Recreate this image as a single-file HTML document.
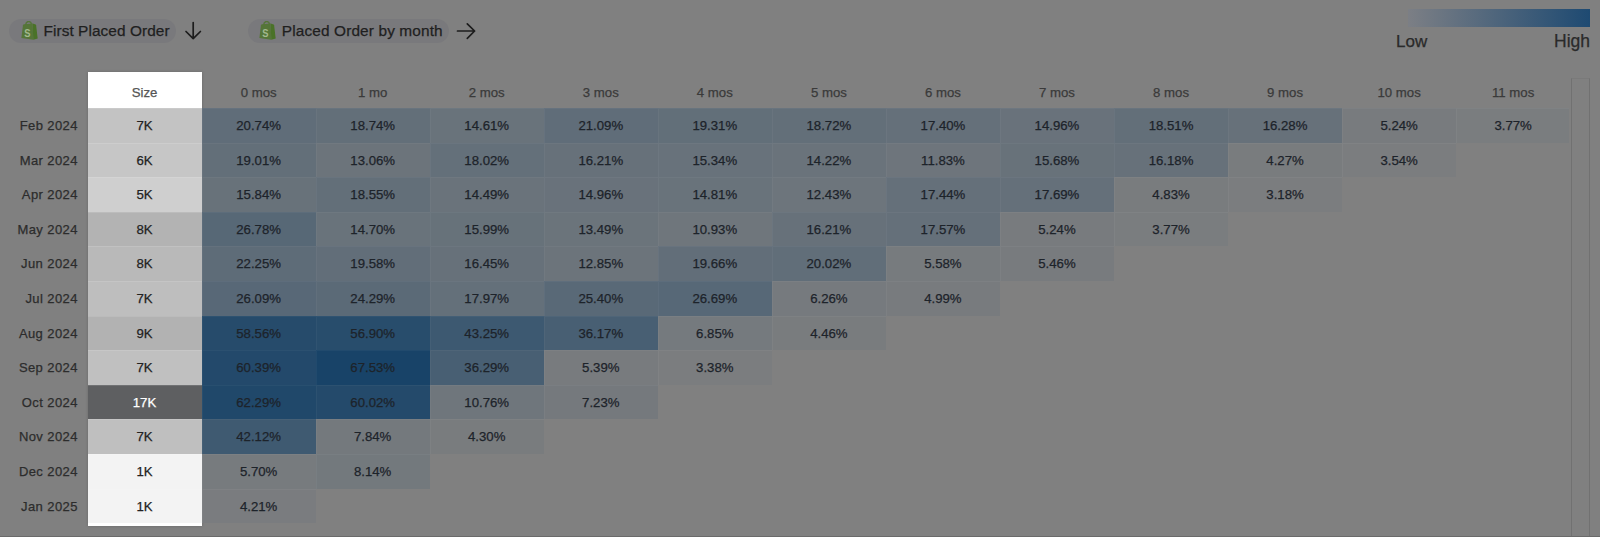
<!DOCTYPE html>
<html><head><meta charset="utf-8"><style>
*{margin:0;padding:0;box-sizing:border-box}
html,body{width:1600px;height:537px;overflow:hidden;background:#808080}
body{position:relative;font-family:"Liberation Sans",Arial,sans-serif;color:#222;-webkit-text-stroke:0.25px currentColor}
.a{position:absolute}
.pill{position:absolute;top:19px;height:24px;border-radius:12px;background:#79797c;}
.pt{position:absolute;top:18.3px;height:24px;line-height:26px;font-size:15.4px;color:#1f1f1f;white-space:nowrap}
.rl{position:absolute;left:0;width:77.8px;text-align:right;font-size:13px;letter-spacing:.4px;color:#2c2c2c;padding-top:1.0px}
.ch{position:absolute;top:72px;height:36px;line-height:41px;text-align:center;font-size:13.2px;color:#3a3a3a;}
.c{position:absolute;box-shadow:inset 1px 1px 0 rgba(255,255,255,.04);text-align:center;font-size:13.2px;color:#1d232a;padding-top:1.0px}
.s{position:absolute;box-shadow:inset 0 1px 0 rgba(255,255,255,.12);left:87.5px;width:114px;text-align:center;font-size:13.2px;color:#222;padding-top:1.0px}
</style></head><body>

<div class="pill" style="left:9px;width:167px"></div>
<div class="pt" style="left:43.5px;letter-spacing:.07px">First Placed Order</div>
<svg class="a" style="left:20.8px;top:20.8px" width="17" height="19" viewBox="0 0 17 19"><path d="M4.6,3.8 C4.9,1.4 6.3,0.4 7.9,0.5 C9.4,0.6 10.3,1.8 10.4,3.3" fill="none" stroke="#557538" stroke-width="1.3"/><path d="M0.4,16.9 L2,4.2 Q2.2,3.4 3,3.3 L11.6,2.6 L12.3,18.8 Z" fill="#557538"/><path d="M11.6,2.6 L14.6,3.5 Q15,3.7 15.1,4.2 L16.7,17.5 L12.3,18.8 Z" fill="#4a7228"/><text x="7.6" y="15.6" text-anchor="middle" font-family="Liberation Sans,Arial,sans-serif" font-weight="bold" font-size="11" transform="scale(0.85,1)"  fill="#a3b88f">S</text></svg>
<svg class="a" style="left:183px;top:20px" width="21" height="21" viewBox="0 0 21 21"><path d="M10.2,2.5 V18.6 M3,11.5 L10.2,18.7 L17.4,11.5" fill="none" stroke="#1c1c1c" stroke-width="1.7" stroke-linecap="round" stroke-linejoin="round"/></svg>
<div class="pill" style="left:248px;width:201px"></div>
<div class="pt" style="left:281.8px;letter-spacing:.13px">Placed Order by month</div>
<svg class="a" style="left:259px;top:20.6px" width="17" height="19" viewBox="0 0 17 19"><path d="M4.6,3.8 C4.9,1.4 6.3,0.4 7.9,0.5 C9.4,0.6 10.3,1.8 10.4,3.3" fill="none" stroke="#557538" stroke-width="1.3"/><path d="M0.4,16.9 L2,4.2 Q2.2,3.4 3,3.3 L11.6,2.6 L12.3,18.8 Z" fill="#557538"/><path d="M11.6,2.6 L14.6,3.5 Q15,3.7 15.1,4.2 L16.7,17.5 L12.3,18.8 Z" fill="#4a7228"/><text x="7.6" y="15.6" text-anchor="middle" font-family="Liberation Sans,Arial,sans-serif" font-weight="bold" font-size="11" transform="scale(0.85,1)"  fill="#a3b88f">S</text></svg>
<svg class="a" style="left:455px;top:21px" width="22" height="20" viewBox="0 0 22 20"><path d="M2.5,10 H19.6 M12.3,2.8 L19.6,10 L12.3,17.3" fill="none" stroke="#1c1c1c" stroke-width="1.7" stroke-linecap="round" stroke-linejoin="round"/></svg>
<div class="a" style="left:1408px;top:9px;width:182px;height:18px;background:linear-gradient(90deg,#7c7f85,#1e4a72)"></div>
<div class="a" style="left:1396px;top:31.5px;font-size:17px;color:#2a2a2a">Low</div>
<div class="a" style="right:10px;top:31px;font-size:17.5px;color:#2a2a2a">High</div>
<div class="a" style="left:87.5px;top:71.5px;width:114px;height:454.5px;background:#fff;box-shadow:0 0 3px rgba(0,0,0,.18)"></div>
<div class="ch" style="left:87.5px;width:114px;color:#555">Size</div>
<div class="a" style="left:0;top:0;width:1569px;height:537px;overflow:hidden">
<div class="ch" style="left:201.60px;width:114.05px">0 mos</div>
<div class="ch" style="left:315.65px;width:114.05px">1 mo</div>
<div class="ch" style="left:429.70px;width:114.05px">2 mos</div>
<div class="ch" style="left:543.75px;width:114.05px">3 mos</div>
<div class="ch" style="left:657.80px;width:114.05px">4 mos</div>
<div class="ch" style="left:771.85px;width:114.05px">5 mos</div>
<div class="ch" style="left:885.90px;width:114.05px">6 mos</div>
<div class="ch" style="left:999.95px;width:114.05px">7 mos</div>
<div class="ch" style="left:1114.00px;width:114.05px">8 mos</div>
<div class="ch" style="left:1228.05px;width:114.05px">9 mos</div>
<div class="ch" style="left:1342.10px;width:114.05px">10 mos</div>
<div class="ch" style="left:1456.15px;width:114.05px">11 mos</div>
<div class="rl" style="top:108.00px;height:34.60px;line-height:34.60px">Feb 2024</div>
<div class="s" style="top:108.00px;height:34.60px;line-height:34.60px;background:#c3c3c3;color:#222">7K</div>
<div class="c" style="left:201.60px;top:108.00px;width:114.05px;height:34.60px;line-height:34.60px;background:#606d79">20.74%</div>
<div class="c" style="left:315.65px;top:108.00px;width:114.05px;height:34.60px;line-height:34.60px;background:#636f79">18.74%</div>
<div class="c" style="left:429.70px;top:108.00px;width:114.05px;height:34.60px;line-height:34.60px;background:#69737b">14.61%</div>
<div class="c" style="left:543.75px;top:108.00px;width:114.05px;height:34.60px;line-height:34.60px;background:#606d79">21.09%</div>
<div class="c" style="left:657.80px;top:108.00px;width:114.05px;height:34.60px;line-height:34.60px;background:#626f79">19.31%</div>
<div class="c" style="left:771.85px;top:108.00px;width:114.05px;height:34.60px;line-height:34.60px;background:#636f79">18.72%</div>
<div class="c" style="left:885.90px;top:108.00px;width:114.05px;height:34.60px;line-height:34.60px;background:#65707a">17.40%</div>
<div class="c" style="left:999.95px;top:108.00px;width:114.05px;height:34.60px;line-height:34.60px;background:#69727b">14.96%</div>
<div class="c" style="left:1114.00px;top:108.00px;width:114.05px;height:34.60px;line-height:34.60px;background:#636f79">18.51%</div>
<div class="c" style="left:1228.05px;top:108.00px;width:114.05px;height:34.60px;line-height:34.60px;background:#67717a">16.28%</div>
<div class="c" style="left:1342.10px;top:108.00px;width:114.05px;height:34.60px;line-height:34.60px;background:#787b7e">5.24%</div>
<div class="c" style="left:1456.15px;top:108.00px;width:114.05px;height:34.60px;line-height:34.60px;background:#7a7d7f">3.77%</div>
<div class="rl" style="top:142.60px;height:34.60px;line-height:34.60px">Mar 2024</div>
<div class="s" style="top:142.60px;height:34.60px;line-height:34.60px;background:#c6c6c6;color:#222">6K</div>
<div class="c" style="left:201.60px;top:142.60px;width:114.05px;height:34.60px;line-height:34.60px;background:#636f79">19.01%</div>
<div class="c" style="left:315.65px;top:142.60px;width:114.05px;height:34.60px;line-height:34.60px;background:#6c747b">13.06%</div>
<div class="c" style="left:429.70px;top:142.60px;width:114.05px;height:34.60px;line-height:34.60px;background:#64707a">18.02%</div>
<div class="c" style="left:543.75px;top:142.60px;width:114.05px;height:34.60px;line-height:34.60px;background:#67717a">16.21%</div>
<div class="c" style="left:657.80px;top:142.60px;width:114.05px;height:34.60px;line-height:34.60px;background:#68727b">15.34%</div>
<div class="c" style="left:771.85px;top:142.60px;width:114.05px;height:34.60px;line-height:34.60px;background:#6a737b">14.22%</div>
<div class="c" style="left:885.90px;top:142.60px;width:114.05px;height:34.60px;line-height:34.60px;background:#6e757c">11.83%</div>
<div class="c" style="left:999.95px;top:142.60px;width:114.05px;height:34.60px;line-height:34.60px;background:#68727a">15.68%</div>
<div class="c" style="left:1114.00px;top:142.60px;width:114.05px;height:34.60px;line-height:34.60px;background:#67717a">16.18%</div>
<div class="c" style="left:1228.05px;top:142.60px;width:114.05px;height:34.60px;line-height:34.60px;background:#797c7e">4.27%</div>
<div class="c" style="left:1342.10px;top:142.60px;width:114.05px;height:34.60px;line-height:34.60px;background:#7b7d7f">3.54%</div>
<div class="rl" style="top:177.20px;height:34.60px;line-height:34.60px">Apr 2024</div>
<div class="s" style="top:177.20px;height:34.60px;line-height:34.60px;background:#cfcfcf;color:#222">5K</div>
<div class="c" style="left:201.60px;top:177.20px;width:114.05px;height:34.60px;line-height:34.60px;background:#68727a">15.84%</div>
<div class="c" style="left:315.65px;top:177.20px;width:114.05px;height:34.60px;line-height:34.60px;background:#636f79">18.55%</div>
<div class="c" style="left:429.70px;top:177.20px;width:114.05px;height:34.60px;line-height:34.60px;background:#6a737b">14.49%</div>
<div class="c" style="left:543.75px;top:177.20px;width:114.05px;height:34.60px;line-height:34.60px;background:#69727b">14.96%</div>
<div class="c" style="left:657.80px;top:177.20px;width:114.05px;height:34.60px;line-height:34.60px;background:#69737b">14.81%</div>
<div class="c" style="left:771.85px;top:177.20px;width:114.05px;height:34.60px;line-height:34.60px;background:#6d757c">12.43%</div>
<div class="c" style="left:885.90px;top:177.20px;width:114.05px;height:34.60px;line-height:34.60px;background:#65707a">17.44%</div>
<div class="c" style="left:999.95px;top:177.20px;width:114.05px;height:34.60px;line-height:34.60px;background:#65707a">17.69%</div>
<div class="c" style="left:1114.00px;top:177.20px;width:114.05px;height:34.60px;line-height:34.60px;background:#797c7e">4.83%</div>
<div class="c" style="left:1228.05px;top:177.20px;width:114.05px;height:34.60px;line-height:34.60px;background:#7b7d7f">3.18%</div>
<div class="rl" style="top:211.80px;height:34.60px;line-height:34.60px">May 2024</div>
<div class="s" style="top:211.80px;height:34.60px;line-height:34.60px;background:#b3b3b3;color:#222">8K</div>
<div class="c" style="left:201.60px;top:211.80px;width:114.05px;height:34.60px;line-height:34.60px;background:#576876">26.78%</div>
<div class="c" style="left:315.65px;top:211.80px;width:114.05px;height:34.60px;line-height:34.60px;background:#69737b">14.70%</div>
<div class="c" style="left:429.70px;top:211.80px;width:114.05px;height:34.60px;line-height:34.60px;background:#67727a">15.99%</div>
<div class="c" style="left:543.75px;top:211.80px;width:114.05px;height:34.60px;line-height:34.60px;background:#6b747b">13.49%</div>
<div class="c" style="left:657.80px;top:211.80px;width:114.05px;height:34.60px;line-height:34.60px;background:#6f767c">10.93%</div>
<div class="c" style="left:771.85px;top:211.80px;width:114.05px;height:34.60px;line-height:34.60px;background:#67717a">16.21%</div>
<div class="c" style="left:885.90px;top:211.80px;width:114.05px;height:34.60px;line-height:34.60px;background:#65707a">17.57%</div>
<div class="c" style="left:999.95px;top:211.80px;width:114.05px;height:34.60px;line-height:34.60px;background:#787b7e">5.24%</div>
<div class="c" style="left:1114.00px;top:211.80px;width:114.05px;height:34.60px;line-height:34.60px;background:#7a7d7f">3.77%</div>
<div class="rl" style="top:246.40px;height:34.60px;line-height:34.60px">Jun 2024</div>
<div class="s" style="top:246.40px;height:34.60px;line-height:34.60px;background:#b9b9b9;color:#222">8K</div>
<div class="c" style="left:201.60px;top:246.40px;width:114.05px;height:34.60px;line-height:34.60px;background:#5e6c78">22.25%</div>
<div class="c" style="left:315.65px;top:246.40px;width:114.05px;height:34.60px;line-height:34.60px;background:#626e79">19.58%</div>
<div class="c" style="left:429.70px;top:246.40px;width:114.05px;height:34.60px;line-height:34.60px;background:#67717a">16.45%</div>
<div class="c" style="left:543.75px;top:246.40px;width:114.05px;height:34.60px;line-height:34.60px;background:#6c747b">12.85%</div>
<div class="c" style="left:657.80px;top:246.40px;width:114.05px;height:34.60px;line-height:34.60px;background:#626e79">19.66%</div>
<div class="c" style="left:771.85px;top:246.40px;width:114.05px;height:34.60px;line-height:34.60px;background:#616e79">20.02%</div>
<div class="c" style="left:885.90px;top:246.40px;width:114.05px;height:34.60px;line-height:34.60px;background:#777b7e">5.58%</div>
<div class="c" style="left:999.95px;top:246.40px;width:114.05px;height:34.60px;line-height:34.60px;background:#787b7e">5.46%</div>
<div class="rl" style="top:281.00px;height:34.60px;line-height:34.60px">Jul 2024</div>
<div class="s" style="top:281.00px;height:34.60px;line-height:34.60px;background:#bebebe;color:#222">7K</div>
<div class="c" style="left:201.60px;top:281.00px;width:114.05px;height:34.60px;line-height:34.60px;background:#586877">26.09%</div>
<div class="c" style="left:315.65px;top:281.00px;width:114.05px;height:34.60px;line-height:34.60px;background:#5b6a77">24.29%</div>
<div class="c" style="left:429.70px;top:281.00px;width:114.05px;height:34.60px;line-height:34.60px;background:#64707a">17.97%</div>
<div class="c" style="left:543.75px;top:281.00px;width:114.05px;height:34.60px;line-height:34.60px;background:#596977">25.40%</div>
<div class="c" style="left:657.80px;top:281.00px;width:114.05px;height:34.60px;line-height:34.60px;background:#576877">26.69%</div>
<div class="c" style="left:771.85px;top:281.00px;width:114.05px;height:34.60px;line-height:34.60px;background:#767a7e">6.26%</div>
<div class="c" style="left:885.90px;top:281.00px;width:114.05px;height:34.60px;line-height:34.60px;background:#787b7e">4.99%</div>
<div class="rl" style="top:315.60px;height:34.60px;line-height:34.60px">Aug 2024</div>
<div class="s" style="top:315.60px;height:34.60px;line-height:34.60px;background:#b2b2b2;color:#222">9K</div>
<div class="c" style="left:201.60px;top:315.60px;width:114.05px;height:34.60px;line-height:34.60px;background:#264b6b">58.56%</div>
<div class="c" style="left:315.65px;top:315.60px;width:114.05px;height:34.60px;line-height:34.60px;background:#284d6c">56.90%</div>
<div class="c" style="left:429.70px;top:315.60px;width:114.05px;height:34.60px;line-height:34.60px;background:#3d5971">43.25%</div>
<div class="c" style="left:543.75px;top:315.60px;width:114.05px;height:34.60px;line-height:34.60px;background:#485f73">36.17%</div>
<div class="c" style="left:657.80px;top:315.60px;width:114.05px;height:34.60px;line-height:34.60px;background:#757a7e">6.85%</div>
<div class="c" style="left:771.85px;top:315.60px;width:114.05px;height:34.60px;line-height:34.60px;background:#797c7e">4.46%</div>
<div class="rl" style="top:350.20px;height:34.60px;line-height:34.60px">Sep 2024</div>
<div class="s" style="top:350.20px;height:34.60px;line-height:34.60px;background:#c0c0c0;color:#222">7K</div>
<div class="c" style="left:201.60px;top:350.20px;width:114.05px;height:34.60px;line-height:34.60px;background:#23496b">60.39%</div>
<div class="c" style="left:315.65px;top:350.20px;width:114.05px;height:34.60px;line-height:34.60px;background:#184368">67.53%</div>
<div class="c" style="left:429.70px;top:350.20px;width:114.05px;height:34.60px;line-height:34.60px;background:#485f73">36.29%</div>
<div class="c" style="left:543.75px;top:350.20px;width:114.05px;height:34.60px;line-height:34.60px;background:#787b7e">5.39%</div>
<div class="c" style="left:657.80px;top:350.20px;width:114.05px;height:34.60px;line-height:34.60px;background:#7b7d7f">3.38%</div>
<div class="rl" style="top:384.80px;height:34.60px;line-height:34.60px">Oct 2024</div>
<div class="s" style="top:384.80px;height:34.60px;line-height:34.60px;background:#5e5f61;color:#fff">17K</div>
<div class="c" style="left:201.60px;top:384.80px;width:114.05px;height:34.60px;line-height:34.60px;background:#20486a">62.29%</div>
<div class="c" style="left:315.65px;top:384.80px;width:114.05px;height:34.60px;line-height:34.60px;background:#244a6b">60.02%</div>
<div class="c" style="left:429.70px;top:384.80px;width:114.05px;height:34.60px;line-height:34.60px;background:#6f767c">10.76%</div>
<div class="c" style="left:543.75px;top:384.80px;width:114.05px;height:34.60px;line-height:34.60px;background:#75797d">7.23%</div>
<div class="rl" style="top:419.40px;height:34.60px;line-height:34.60px">Nov 2024</div>
<div class="s" style="top:419.40px;height:34.60px;line-height:34.60px;background:#bfbfbf;color:#222">7K</div>
<div class="c" style="left:201.60px;top:419.40px;width:114.05px;height:34.60px;line-height:34.60px;background:#3f5a71">42.12%</div>
<div class="c" style="left:315.65px;top:419.40px;width:114.05px;height:34.60px;line-height:34.60px;background:#74797d">7.84%</div>
<div class="c" style="left:429.70px;top:419.40px;width:114.05px;height:34.60px;line-height:34.60px;background:#797c7e">4.30%</div>
<div class="rl" style="top:454.00px;height:34.60px;line-height:34.60px">Dec 2024</div>
<div class="s" style="top:454.00px;height:34.60px;line-height:34.60px;background:#f3f3f3;color:#222">1K</div>
<div class="c" style="left:201.60px;top:454.00px;width:114.05px;height:34.60px;line-height:34.60px;background:#777b7e">5.70%</div>
<div class="c" style="left:315.65px;top:454.00px;width:114.05px;height:34.60px;line-height:34.60px;background:#73797d">8.14%</div>
<div class="rl" style="top:488.60px;height:34.60px;line-height:34.60px">Jan 2025</div>
<div class="s" style="top:488.60px;height:34.60px;line-height:34.60px;background:#f3f3f3;color:#222">1K</div>
<div class="c" style="left:201.60px;top:488.60px;width:114.05px;height:34.60px;line-height:34.60px;background:#7a7c7f">4.21%</div>
</div>
<div class="a" style="left:1570.5px;top:78px;width:19px;height:460px;border:1px solid #717171;border-top-color:#7a7a7a;border-bottom:none"></div>
<div class="a" style="left:0;top:535.5px;width:1600px;height:2px;background:#6a6a6a"></div>
</body></html>
